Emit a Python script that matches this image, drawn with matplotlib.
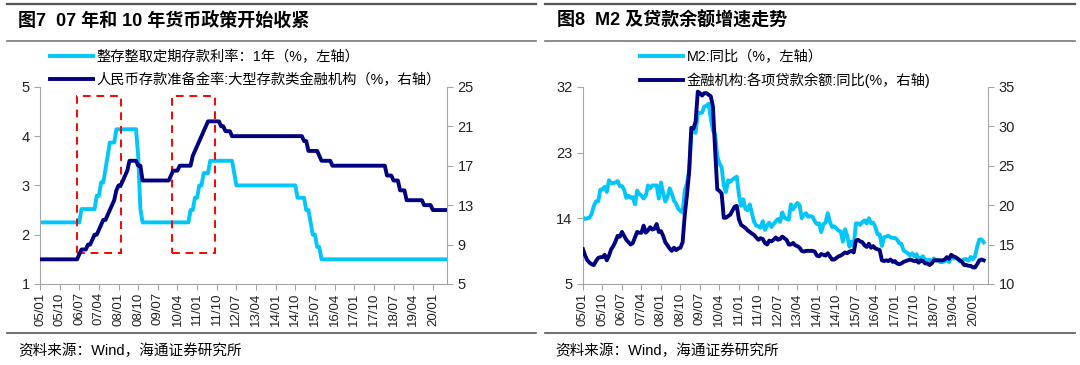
import numpy as np
import matplotlib.pyplot as plt
from matplotlib.lines import Line2D
from matplotlib.patches import Rectangle

plt.rcParams['font.family'] = ['Liberation Sans', 'Noto Sans CJK SC']

# x ticks every 9 months starting 2005-01
tick_labels = ['05/01', '05/10', '06/07', '07/04', '08/01', '08/10', '09/07', '10/04',
               '11/01', '11/10', '12/07', '13/04', '14/01', '14/10', '15/07', '16/04',
               '17/01', '17/10', '18/07', '19/04', '20/01']

# fig 7: 1y deposit rate (left axis), monthly 2005-01 .. 2020-07
deposit_rate = [
    2.25, 2.25, 2.25, 2.25, 2.25, 2.25, 2.25, 2.25, 2.25, 2.25, 2.25, 2.25,
    2.25, 2.25, 2.25, 2.25, 2.25, 2.25, 2.25, 2.52, 2.52, 2.52, 2.52, 2.52,
    2.52, 2.52, 2.79, 2.79, 3.06, 3.06, 3.33, 3.60, 3.87, 3.87, 3.87, 4.14,
    4.14, 4.14, 4.14, 4.14, 4.14, 4.14, 4.14, 4.14, 4.14, 3.60, 2.52, 2.25,
    2.25, 2.25, 2.25, 2.25, 2.25, 2.25, 2.25, 2.25, 2.25, 2.25, 2.25, 2.25,
    2.25, 2.25, 2.25, 2.25, 2.25, 2.25, 2.25, 2.25, 2.25, 2.50, 2.50, 2.75,
    2.75, 3.00, 3.00, 3.25, 3.25, 3.25, 3.50, 3.50, 3.50, 3.50, 3.50, 3.50,
    3.50, 3.50, 3.50, 3.50, 3.50, 3.25, 3.00, 3.00, 3.00, 3.00, 3.00, 3.00,
    3.00, 3.00, 3.00, 3.00, 3.00, 3.00, 3.00, 3.00, 3.00, 3.00, 3.00, 3.00,
    3.00, 3.00, 3.00, 3.00, 3.00, 3.00, 3.00, 3.00, 3.00, 3.00, 2.75, 2.75,
    2.75, 2.75, 2.50, 2.50, 2.25, 2.00, 2.00, 1.75, 1.75, 1.50, 1.50, 1.50,
    1.50, 1.50, 1.50, 1.50, 1.50, 1.50, 1.50, 1.50, 1.50, 1.50, 1.50, 1.50,
    1.50, 1.50, 1.50, 1.50, 1.50, 1.50, 1.50, 1.50, 1.50, 1.50, 1.50, 1.50,
    1.50, 1.50, 1.50, 1.50, 1.50, 1.50, 1.50, 1.50, 1.50, 1.50, 1.50, 1.50,
    1.50, 1.50, 1.50, 1.50, 1.50, 1.50, 1.50, 1.50, 1.50, 1.50, 1.50, 1.50,
    1.50, 1.50, 1.50, 1.50, 1.50, 1.50, 1.50,
]

# fig 7: RRR large banks (right axis)
rrr_large = [
    7.5, 7.5, 7.5, 7.5, 7.5, 7.5, 7.5, 7.5, 7.5, 7.5, 7.5, 7.5,
    7.5, 7.5, 7.5, 7.5, 7.5, 7.5, 8.0, 8.5, 8.5, 8.5, 9.0, 9.0,
    9.5, 10.0, 10.0, 10.5, 11.0, 11.5, 11.5, 12.0, 12.5, 13.0, 13.5, 14.5,
    15.0, 15.0, 15.5, 16.0, 16.5, 17.5, 17.5, 17.5, 17.5, 17.0, 17.0, 15.5,
    15.5, 15.5, 15.5, 15.5, 15.5, 15.5, 15.5, 15.5, 15.5, 15.5, 15.5, 15.5,
    16.0, 16.5, 16.5, 16.5, 17.0, 17.0, 17.0, 17.0, 17.0, 17.0, 18.0, 18.5,
    19.0, 19.5, 20.0, 20.5, 21.0, 21.5, 21.5, 21.5, 21.5, 21.5, 21.5, 21.0,
    21.0, 20.5, 20.5, 20.5, 20.0, 20.0, 20.0, 20.0, 20.0, 20.0, 20.0, 20.0,
    20.0, 20.0, 20.0, 20.0, 20.0, 20.0, 20.0, 20.0, 20.0, 20.0, 20.0, 20.0,
    20.0, 20.0, 20.0, 20.0, 20.0, 20.0, 20.0, 20.0, 20.0, 20.0, 20.0, 20.0,
    20.0, 19.5, 19.5, 18.5, 18.5, 18.5, 18.5, 18.5, 18.0, 17.5, 17.5, 17.5,
    17.5, 17.5, 17.0, 17.0, 17.0, 17.0, 17.0, 17.0, 17.0, 17.0, 17.0, 17.0,
    17.0, 17.0, 17.0, 17.0, 17.0, 17.0, 17.0, 17.0, 17.0, 17.0, 17.0, 17.0,
    17.0, 17.0, 17.0, 16.0, 16.0, 16.0, 15.5, 15.5, 15.5, 14.5, 14.5, 14.5,
    13.5, 13.5, 13.5, 13.5, 13.5, 13.5, 13.5, 13.5, 13.0, 13.0, 13.0, 13.0,
    12.5, 12.5, 12.5, 12.5, 12.5, 12.5, 12.5,
]

# red dashed boxes (month index span, left-axis value span)
box_spans = [(17, 37), (60.5, 80)]
box_levels = (1.62, 4.82)

# fig 8: M2 yoy (left axis), monthly 2005-01 .. 2020-06
m2_yoy = [
    14.1, 13.9, 14.0, 14.1, 14.6, 15.7, 16.3, 16.3, 17.9, 18.0, 18.3, 17.6,
    19.2, 18.8, 18.8, 18.9, 19.1, 18.4, 18.4, 17.9, 16.8, 17.1, 16.8, 16.9,
    15.9, 17.8, 17.3, 17.1, 16.7, 17.1, 18.5, 18.1, 18.5, 18.5, 18.5, 16.7,
    18.9, 17.5, 16.3, 16.9, 18.1, 17.4, 16.4, 16.0, 15.3, 15.0, 14.8, 17.8,
    18.8, 20.5, 25.5, 26.0, 25.7, 28.5, 28.4, 28.5, 29.3, 29.4, 29.7, 27.7,
    26.0, 25.5, 22.5, 21.5, 21.0, 18.5, 17.6, 19.2, 19.0, 19.3, 19.5, 19.7,
    17.2, 15.7, 16.6, 15.3, 15.1, 15.9, 14.7, 13.5, 13.0, 12.9, 12.7, 13.6,
    12.4, 13.0, 13.4, 12.8, 13.2, 13.6, 13.9, 13.5, 14.8, 14.1, 13.9, 13.8,
    15.9, 15.2, 15.7, 16.1, 15.8, 14.0, 14.5, 14.7, 14.2, 14.3, 14.2, 13.6,
    13.2, 13.3, 12.1, 13.2, 13.4, 14.7, 13.5, 12.8, 12.9, 12.6, 12.3, 12.2,
    10.8, 12.5, 11.6, 10.1, 10.8, 10.2, 13.3, 13.3, 13.1, 13.5, 13.7, 13.3,
    14.0, 13.3, 13.4, 12.8, 11.8, 11.8, 10.2, 11.4, 11.5, 11.6, 11.4, 11.3,
    11.3, 11.1, 10.6, 10.5, 9.6, 9.4, 9.2, 8.9, 9.2, 8.8, 9.1, 8.2,
    8.6, 8.8, 8.2, 8.3, 8.3, 8.0, 8.5, 8.2, 8.3, 8.0, 8.0, 8.1,
    8.4, 8.0, 8.6, 8.5, 8.5, 8.5, 8.1, 8.2, 8.4, 8.4, 8.2, 8.7,
    8.4, 8.8, 10.1, 11.1, 11.1, 10.7,
]

# fig 8: loan balance yoy (right axis)
loan_yoy = [
    14.4, 13.6, 13.0, 12.7, 12.5, 12.4, 12.9, 13.3, 13.4, 13.4, 13.7, 13.0,
    13.6, 14.4, 14.8, 15.4, 16.1, 16.0, 16.6, 16.1, 15.6, 15.3, 15.0, 15.2,
    15.9, 16.6, 16.5, 16.5, 17.4, 16.5, 16.8, 17.2, 16.9, 17.0, 17.6, 16.6,
    16.7, 16.1, 15.3, 14.9, 14.5, 14.2, 14.6, 14.3, 14.5, 14.6, 15.3, 18.8,
    21.3, 24.2, 29.8, 29.7, 30.6, 34.4, 34.2, 33.9, 34.2, 34.2, 34.0, 33.8,
    32.5, 27.0, 22.0, 21.8, 21.5, 18.4, 18.4, 18.6, 18.8, 19.3, 19.8, 19.9,
    18.2, 17.5, 17.3, 17.1, 16.8, 16.6, 16.4, 16.2, 15.9, 15.6, 15.8, 15.7,
    15.2, 15.0, 15.5, 15.4, 15.6, 15.9, 15.6, 15.7, 16.0, 15.8, 15.6, 15.0,
    15.0, 15.2, 14.9, 14.8, 14.6, 14.2, 14.1, 14.2, 14.2, 14.2, 14.2, 14.1,
    13.6, 13.5, 13.8, 13.7, 13.6, 13.9, 13.5, 13.1, 13.1, 13.3, 13.5, 13.6,
    13.8, 14.0, 13.9, 14.1, 14.2, 14.0, 15.5, 15.6, 15.4, 15.3, 14.9, 14.7,
    15.1, 14.6, 14.8, 14.5, 14.4, 14.3, 13.0, 12.9, 13.0, 12.9, 13.1, 12.8,
    12.9, 12.6, 12.5, 12.6, 12.8, 12.9, 13.0, 13.1, 13.0, 12.9, 13.0, 12.7,
    13.0, 12.9, 12.6, 12.6, 12.4, 12.6, 13.0, 13.0, 13.0, 13.0, 13.0, 13.1,
    13.4, 13.2, 13.7, 13.5, 13.4, 13.2, 13.0, 12.8, 12.4, 12.4, 12.3, 12.3,
    12.1, 12.1, 12.5, 13.0, 13.1, 13.0,
]

cyan = '#00C6FA'
navy = '#000080'
gray = '#A6A6A6'

fig = plt.figure(figsize=(10.8, 3.65), dpi=100)


def setup(ax, ax2, ylim, yticks, ylim2, yticks2, xmax):
    ax.set_xlim(0, xmax)
    ax.set_xticks(np.arange(0, 9 * len(tick_labels), 9))
    ax.set_xticklabels(tick_labels, rotation=90)
    ax.set_ylim(*ylim)
    ax.set_yticks(yticks)
    ax2.set_ylim(*ylim2)
    ax2.set_yticks(yticks2)
    for a in (ax, ax2):
        for s in a.spines.values():
            s.set_color(gray)
        a.spines['top'].set_visible(False)
        a.tick_params(colors=gray, labelcolor='#222222', length=4, labelsize=10.5)
    ax.tick_params(axis='x', labelsize=9.5, pad=2)
    ax.spines['right'].set_visible(False)
    ax2.spines['left'].set_visible(False)
    ax2.spines['bottom'].set_visible(False)


leg_kw = dict(loc='upper left', bbox_transform=fig.transFigure, frameon=False, fontsize=10.3,
              handlelength=3.0, handletextpad=0.25, labelspacing=0.6,
              borderaxespad=0, borderpad=0)

# ---- figure 7 ----
ax = fig.add_axes([40 / 1080, 0.222, 407 / 1080, 0.54])
ax2 = ax.twinx()
x1 = np.arange(len(deposit_rate))
l1, = ax.plot(x1, deposit_rate, color=cyan, lw=2.8)
l2, = ax2.plot(x1, rrr_large, color=navy, lw=2.8)
for (xa, xb) in box_spans:
    ax2.add_patch(Rectangle((xa, box_levels[0] * 5), xb - xa, (box_levels[1] - box_levels[0]) * 5,
                            fill=False, ec='#FF0000', ls=(0, (4, 3)), lw=1.4))
setup(ax, ax2, (1, 5), [1, 2, 3, 4, 5], (5, 25), [5, 9, 13, 17, 21, 25], 186.5)
ax2.legend([l1, l2], ['整存整取定期存款利率：1年（%，左轴）', '人民币存款准备金率:大型存款类金融机构（%，右轴）'],
           bbox_to_anchor=(50 / 1080, 1 - 50 / 365), **leg_kw)

# ---- figure 8 ----
bx = fig.add_axes([583 / 1080, 0.222, 405 / 1080, 0.54])
bx2 = bx.twinx()
x2 = np.arange(len(m2_yoy))
k1, = bx.plot(x2, m2_yoy, color=cyan, lw=2.8)
k2, = bx2.plot(x2, loan_yoy, color=navy, lw=2.8)
setup(bx, bx2, (5, 32), [5, 14, 23, 32], (10, 35), [10, 15, 20, 25, 30, 35], 187)
bx2.legend([k1, k2], ['M2:同比（%，左轴）', '金融机构:各项贷款余额:同比(%，右轴)'],
           bbox_to_anchor=(640 / 1080, 1 - 50 / 365), **leg_kw)

# titles, rules and source notes
for x0, x1_ in [(7, 536), (545, 1075)]:
    fig.add_artist(Line2D([x0 / 1080, x1_ / 1080], [1 - 3.5 / 365] * 2, color='#555555', lw=1.6))
    fig.add_artist(Line2D([x0 / 1080, x1_ / 1080], [1 - 40.5 / 365] * 2, color='#777777', lw=1.2))
    fig.add_artist(Line2D([x0 / 1080, x1_ / 1080], [1 - 333 / 365] * 2, color='#555555', lw=1.2))

fig.text(18 / 1080, 1 - 21 / 365, '图7  07 年和 10 年货币政策开始收紧', fontsize=13,
         fontweight='bold', va='center', ha='left')
fig.text(557 / 1080, 1 - 21 / 365, '图8  M2 及贷款余额增速走势', fontsize=13,
         fontweight='bold', va='center', ha='left')
fig.text(18 / 1080, 1 - 351 / 365, '资料来源：Wind，海通证券研究所', fontsize=10.5, va='center', ha='left')
fig.text(555 / 1080, 1 - 351 / 365, '资料来源：Wind，海通证券研究所', fontsize=10.5, va='center', ha='left')

fig.savefig('out.png', dpi=100)
